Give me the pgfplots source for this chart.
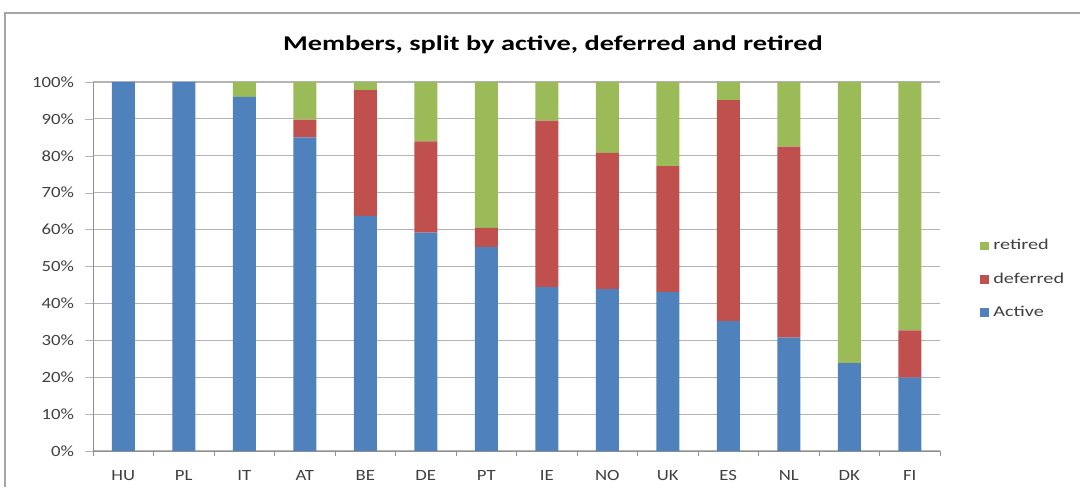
\documentclass[border=0pt]{standalone}
\usepackage{fontspec}
\setmainfont{Carlito}
\newfontfamily\widef{Carlito}[FakeStretch=1.35]
\newfontfamily\tickf{Carlito}[FakeStretch=1.2]
\usepackage{pgfplots}
\pgfplotsset{compat=1.18}
\usepackage{pgfplotstable}
\definecolor{actblue}{HTML}{4F81BD}
\definecolor{defred}{HTML}{C0504D}
\definecolor{retgreen}{HTML}{9BBB59}
\definecolor{gridgray}{HTML}{B4B4B4}
\definecolor{txt}{HTML}{404040}

\pgfplotstableread{
x cat active deferred retired
0  HU 100  0    0
1  PL 100  0    0
2  IT 96   0    4
3  AT 85   4.8  10.2
4  BE 63.7 34.1 2.2
5  DE 59.2 24.7 16.1
6  PT 55.3 5.2  39.5
7  IE 44.4 45.1 10.5
8  NO 43.9 36.9 19.2
9  UK 43.1 34.1 22.8
10 ES 35.2 59.9 4.9
11 NL 30.7 51.8 17.5
12 DK 23.8 0    76.2
13 FI 19.9 12.8 67.3
}\members

\begin{document}
\begin{tikzpicture}
  \useasboundingbox (0pt,0pt) rectangle (540pt,243.5pt);
  % chart frame
  \draw[gray!70,line width=0.8pt] (2.5pt,0pt) -- (2.5pt,237pt) -- (541pt,237pt);
  \node[font=\widef\fontsize{10.5}{12}\selectfont\bfseries] at (276.5pt,221pt) {Members, split by active, deferred and retired};
  \begin{axis}[
    at={(46.5pt,18pt)}, anchor=south west,
    scale only axis, width=423.5pt, height=184.5pt,
    ybar stacked, bar width=11.5pt,
    xmin=-0.5, xmax=13.5, ymin=0, ymax=100,
    xtick=data, xticklabels from table={\members}{cat},
    minor xtick={-0.5,0.5,...,13.5},
    major x tick style={draw=none},
    minor x tick style={gridgray!80!black},
    minor tick length=2.5pt,
    ytick={0,10,...,100},
    yticklabel={\pgfmathprintnumber{\tick}\%},
    /pgf/number format/assume math mode=true,
    ymajorgrids, grid style={gridgray, line width=0.6pt},
    axis x line*=bottom, axis y line*=left,
    axis line style={gridgray!80!black},
    tick align=outside, xtick pos=bottom, ytick pos=left,
    major tick length=4pt,
    y tick style={gridgray},
    tick label style={font=\tickf\fontsize{7.8}{9}\selectfont, text=txt},
    xticklabel style={yshift=-2pt},
    yticklabel style={xshift=-2pt},
    legend style={at={(1.04,0.465)}, anchor=west, draw=none, fill=none,
      font=\widef\fontsize{7.5}{9}\selectfont, text=txt,
      row sep=6pt, legend cell align=left},
    reverse legend,
    legend image code/.code={\fill[#1] (0pt,-2.2pt) rectangle (4.5pt,2.2pt);},
  ]
    \addplot[fill=actblue, draw=none] table[x=x, y=active] {\members};
    \addplot[fill=defred, draw=none] table[x=x, y=deferred] {\members};
    \addplot[fill=retgreen, draw=none] table[x=x, y=retired] {\members};
    \legend{Active, deferred, retired}
  \end{axis}
\end{tikzpicture}
\end{document}
